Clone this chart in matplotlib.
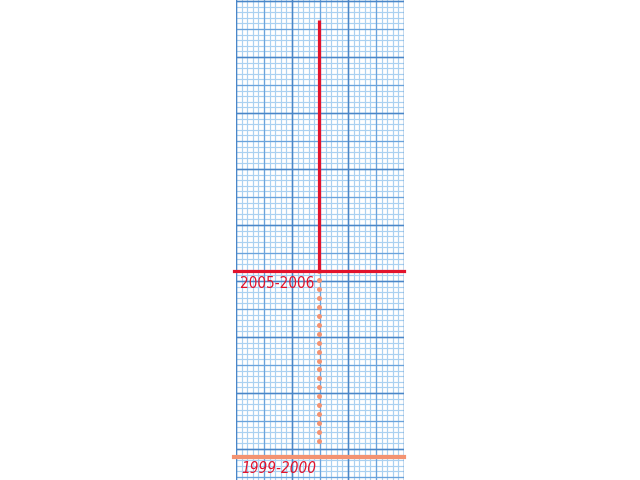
import numpy as np
import matplotlib
matplotlib.use("Agg")
import matplotlib.pyplot as plt

# values (1 unit = one large square)
periods = ["1999-2000", "2005-2006"]
levels = [0.71, 7.36]
peak = 16.32
stem_x = 2.95
paper_w = 6
paper_h = 17

RED = "#e2132c"
ORANGE = "#f39372"

fig = plt.figure(figsize=(6.4, 4.8), dpi=100)
ax = fig.add_axes([236 / 640, 0, 168 / 640, 1])
ax.set_xlim(0, paper_w)
ax.set_ylim(-3 / 28, paper_h + 1 / 28)
ax.axis("off")

# graph paper grid
minor = np.arange(0, paper_w + 0.01, 0.2)
ax.vlines(minor, -1, paper_h + 1, color="#aad1f1", lw=0.85, zorder=1)
minor_y = np.arange(-0.2, paper_h + 0.01, 0.2)
ax.hlines(minor_y, 0, paper_w, color="#aad1f1", lw=0.85, zorder=1)
ax.vlines(np.arange(0, paper_w + 1), -1, paper_h + 1, color="#6aa3dc", lw=0.9, zorder=2)
ax.hlines(np.arange(0, paper_h + 1), 0, paper_w, color="#6aa3dc", lw=0.9, zorder=2)
ax.vlines(np.arange(0, paper_w + 1, 2), -1, paper_h + 1, color="#4a86c8", lw=1.0, zorder=2)
ax.hlines(np.arange(1, paper_h + 1, 2), 0, paper_w, color="#4a86c8", lw=1.0, zorder=2)

# 2005-2006: stem up to peak and baseline
ax.plot([stem_x, stem_x], [levels[1], peak], color=RED, lw=2.3, solid_capstyle="butt", zorder=4)
ax.plot([-0.07, paper_w], [levels[1], levels[1]], color=RED, lw=2.3, clip_on=False, zorder=4)

# dotted drop to 1999-2000
dots = np.arange(levels[1], levels[0] + 0.4, -0.32)
ax.plot(np.full_like(dots, stem_x), dots, "o", color=ORANGE, ms=3.6, mec="none", zorder=3)
ax.plot([-0.07, paper_w], [levels[0], levels[0]], color=ORANGE, lw=3, clip_on=False, zorder=4)

hand = ["DejaVu Sans"]
ax.text(0.14, levels[1] - 0.44, periods[1], color=RED, fontsize=11, family=hand,
        fontstretch="condensed", va="center", ha="left", zorder=5)
ax.text(0.2, levels[0] - 0.42, periods[0], color=RED, fontsize=11, family=hand,
        fontstretch="condensed", style="italic", va="center", ha="left", zorder=5)

fig.savefig("out.png", dpi=100, facecolor="white")
